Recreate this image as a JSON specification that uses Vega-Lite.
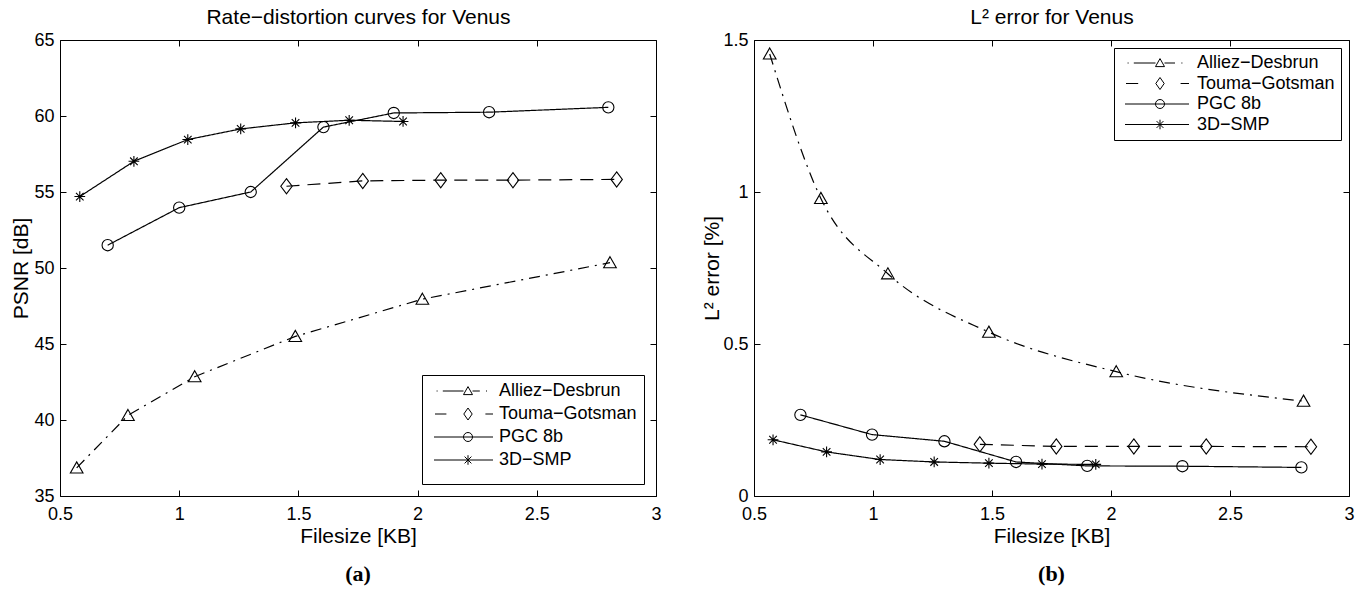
{
  "$schema": "https://vega.github.io/schema/vega-lite/v6.json",
  "padding": {"left": 10, "top": 6, "right": 5, "bottom": 5},
  "spacing": 39,
  "datasets": {
    "psnr": [
      {"method": "Alliez−Desbrun", "size": 0.57, "value": 36.85},
      {"method": "Alliez−Desbrun", "size": 0.785, "value": 40.3},
      {"method": "Alliez−Desbrun", "size": 1.065, "value": 42.85},
      {"method": "Alliez−Desbrun", "size": 1.487, "value": 45.5},
      {"method": "Alliez−Desbrun", "size": 2.02, "value": 47.95},
      {"method": "Alliez−Desbrun", "size": 2.807, "value": 50.35},
      {"method": "Touma−Gotsman", "size": 1.45, "value": 55.38},
      {"method": "Touma−Gotsman", "size": 1.77, "value": 55.73},
      {"method": "Touma−Gotsman", "size": 2.097, "value": 55.78},
      {"method": "Touma−Gotsman", "size": 2.4, "value": 55.78},
      {"method": "Touma−Gotsman", "size": 2.835, "value": 55.83},
      {"method": "PGC 8b", "size": 0.7, "value": 51.5},
      {"method": "PGC 8b", "size": 1.0, "value": 53.97},
      {"method": "PGC 8b", "size": 1.3, "value": 55.0},
      {"method": "PGC 8b", "size": 1.605, "value": 59.27},
      {"method": "PGC 8b", "size": 1.9, "value": 60.2},
      {"method": "PGC 8b", "size": 2.3, "value": 60.25},
      {"method": "PGC 8b", "size": 2.8, "value": 60.57},
      {"method": "3D−SMP", "size": 0.583, "value": 54.7},
      {"method": "3D−SMP", "size": 0.81, "value": 57.02},
      {"method": "3D−SMP", "size": 1.036, "value": 58.45},
      {"method": "3D−SMP", "size": 1.258, "value": 59.15},
      {"method": "3D−SMP", "size": 1.488, "value": 59.55},
      {"method": "3D−SMP", "size": 1.713, "value": 59.72},
      {"method": "3D−SMP", "size": 1.939, "value": 59.64}
    ],
    "l2": [
      {"method": "Alliez−Desbrun", "size": 0.566, "value": 1.454},
      {"method": "Alliez−Desbrun", "size": 0.781, "value": 0.979},
      {"method": "Alliez−Desbrun", "size": 1.0625, "value": 0.731},
      {"method": "Alliez−Desbrun", "size": 1.487, "value": 0.539},
      {"method": "Alliez−Desbrun", "size": 2.022, "value": 0.409},
      {"method": "Alliez−Desbrun", "size": 2.809, "value": 0.312},
      {"method": "Touma−Gotsman", "size": 1.449, "value": 0.17},
      {"method": "Touma−Gotsman", "size": 1.77, "value": 0.163},
      {"method": "Touma−Gotsman", "size": 2.096, "value": 0.163},
      {"method": "Touma−Gotsman", "size": 2.4, "value": 0.163},
      {"method": "Touma−Gotsman", "size": 2.84, "value": 0.162},
      {"method": "PGC 8b", "size": 0.695, "value": 0.267},
      {"method": "PGC 8b", "size": 0.996, "value": 0.202},
      {"method": "PGC 8b", "size": 1.3, "value": 0.18},
      {"method": "PGC 8b", "size": 1.601, "value": 0.112},
      {"method": "PGC 8b", "size": 1.9, "value": 0.099},
      {"method": "PGC 8b", "size": 2.3, "value": 0.098},
      {"method": "PGC 8b", "size": 2.8, "value": 0.094},
      {"method": "3D−SMP", "size": 0.58, "value": 0.185},
      {"method": "3D−SMP", "size": 0.805, "value": 0.145},
      {"method": "3D−SMP", "size": 1.03, "value": 0.12},
      {"method": "3D−SMP", "size": 1.257, "value": 0.112},
      {"method": "3D−SMP", "size": 1.487, "value": 0.108},
      {"method": "3D−SMP", "size": 1.71, "value": 0.105},
      {"method": "3D−SMP", "size": 1.936, "value": 0.104}
    ]
  },
  "hconcat": [
    {
      "width": 596,
      "height": 456,
      "data": {"name": "psnr"},
      "title": {"text": "(a)", "orient": "bottom", "font": "Liberation Serif", "fontSize": 22, "fontWeight": "bold", "color": "black", "offset": 18, "anchor": "middle"},
      "layer": [
        {
          "mark": {"type": "line", "strokeWidth": 1.2, "color": "black"},
          "encoding": {
            "x": {"field": "size", "type": "quantitative", "scale": {"domain": [0.5, 3], "nice": false, "zero": false},
              "axis": {"orient": "bottom", "values": [0.5, 1, 1.5, 2, 2.5, 3], "format": "~g", "title": "Filesize [KB]", "labelFlush": false, "labelOverlap": false, "labelPadding": 15, "titlePadding": 2}},
            "y": {"field": "value", "type": "quantitative", "scale": {"domain": [35, 65], "nice": false, "zero": false},
              "axis": {"orient": "left", "values": [35, 40, 45, 50, 55, 60, 65], "format": "~g", "title": "PSNR [dB]", "labelOverlap": false, "labelPadding": 12, "titlePadding": 2}},
            "strokeDash": {"field": "method", "type": "nominal", "scale": {"domain": ["Alliez−Desbrun", "Touma−Gotsman", "PGC 8b", "3D−SMP"], "range": [[11, 6, 2, 6], [13, 8], [1, 0], [1, 0]]}, "legend": null},
            "detail": {"field": "method", "type": "nominal"}
          }
        },
        {
          "mark": {"type": "point", "filled": false, "color": "black", "strokeWidth": 1.1, "size": 160, "opacity": 1},
          "encoding": {
            "x": {"field": "size", "type": "quantitative",
              "axis": {"orient": "top", "labels": false, "values": [0.5, 1, 1.5, 2, 2.5, 3], "title": "Rate−distortion curves for Venus", "titlePadding": 12}},
            "y": {"field": "value", "type": "quantitative",
              "axis": {"orient": "right", "labels": false, "values": [35, 40, 45, 50, 55, 60, 65], "title": null}},
            "shape": {"field": "method", "type": "nominal",
              "scale": {"domain": ["Alliez−Desbrun", "Touma−Gotsman", "PGC 8b", "3D−SMP"],
                "range": ["M0,-0.95L1,0.8L-1,0.8Z", "M0,-1.2L0.9,0L0,1.2L-0.9,0Z", "M-0.89,0A0.89,0.89,0,1,0,0.89,0A0.89,0.89,0,1,0,-0.89,0Z", "M0,-0.85V0.85M-0.85,0H0.85M-0.6,-0.6L0.6,0.6M-0.6,0.6L0.6,-0.6"]},
              "legend": null
            }
          }
        },
        {
          "mark": {"type": "point", "filled": false, "color": "black", "opacity": 0},
          "encoding": {
            "x": {"field": "size", "type": "quantitative", "axis": null},
            "y": {"field": "value", "type": "quantitative", "axis": null},
            "shape": {"field": "method", "type": "nominal",
              "scale": {"domain": ["Alliez−Desbrun", "Touma−Gotsman", "PGC 8b", "3D−SMP"],
                "range": ["M-0.35,0H-0.1M1.2,0H6.375M7.5,-1.1L8.625,0.9L6.375,0.9ZM8.625,0H10.45M12,0H12.25", "M-0.75,0H2.1M11.85,0H13.75M7.5,-1.5L8.55,0L7.5,1.5L6.45,0Z", "M-1,0H13.75M6.375,0A1.125,1.125,0,1,0,8.625,0A1.125,1.125,0,1,0,6.375,0Z", "M-1,0H13.75M7.5,-1.2V1.2M6.65,-0.85L8.35,0.85M6.65,0.85L8.35,-0.85"]},
              "legend": {"title": " ", "titleOrient": "bottom", "titleFontSize": 6, "titlePadding": 2, "orient": "bottom-right", "offset": 12, "padding": 7, "rowPadding": 5, "labelFontSize": 18, "labelFont": "Liberation Sans", "labelColor": "black", "labelOffset": 52, "labelLimit": 400, "symbolSize": 64, "symbolStrokeWidth": 1, "symbolStrokeColor": "black", "symbolFillColor": "transparent", "symbolOpacity": 1, "strokeColor": "black", "fillColor": "white", "cornerRadius": 0}
            }
          }
        }
      ],
      "resolve": {"axis": {"x": "independent", "y": "independent"}, "scale": {"shape": "independent"}, "legend": {"shape": "independent"}}
    },
    {
      "width": 595,
      "height": 456,
      "data": {"name": "l2"},
      "title": {"text": "(b)", "orient": "bottom", "font": "Liberation Serif", "fontSize": 22, "fontWeight": "bold", "color": "black", "offset": 18, "anchor": "middle"},
      "layer": [
        {
          "transform": [{"filter": "datum.method === 'Alliez−Desbrun'"}],
          "mark": {"type": "line", "strokeWidth": 1.2, "color": "black", "interpolate": "monotone"},
          "encoding": {
            "x": {"field": "size", "type": "quantitative", "scale": {"domain": [0.5, 3], "nice": false, "zero": false},
              "axis": {"orient": "bottom", "values": [0.5, 1, 1.5, 2, 2.5, 3], "format": "~g", "title": "Filesize [KB]", "labelFlush": false, "labelOverlap": false, "labelPadding": 15, "titlePadding": 2}},
            "y": {"field": "value", "type": "quantitative", "scale": {"domain": [0, 1.5], "nice": false, "zero": false},
              "axis": {"orient": "left", "values": [0, 0.5, 1, 1.5], "format": "~g", "title": "L² error [%]", "labelOverlap": false, "labelPadding": 12, "titlePadding": 0}},
            "strokeDash": {"field": "method", "type": "nominal", "scale": {"domain": ["Alliez−Desbrun", "Touma−Gotsman", "PGC 8b", "3D−SMP"], "range": [[11, 6, 2, 6], [13, 8], [1, 0], [1, 0]]}, "legend": null},
            "detail": {"field": "method", "type": "nominal"}
          }
        },
        {
          "transform": [{"filter": "datum.method !== 'Alliez−Desbrun'"}],
          "mark": {"type": "line", "strokeWidth": 1.2, "color": "black"},
          "encoding": {
            "x": {"field": "size", "type": "quantitative", "axis": null},
            "y": {"field": "value", "type": "quantitative", "axis": null},
            "strokeDash": {"field": "method", "type": "nominal", "legend": null},
            "detail": {"field": "method", "type": "nominal"}
          }
        },
        {
          "mark": {"type": "point", "filled": false, "color": "black", "strokeWidth": 1.1, "size": 160, "opacity": 1},
          "encoding": {
            "x": {"field": "size", "type": "quantitative",
              "axis": {"orient": "top", "labels": false, "values": [0.5, 1, 1.5, 2, 2.5, 3], "title": "L² error for Venus", "titlePadding": 12}},
            "y": {"field": "value", "type": "quantitative",
              "axis": {"orient": "right", "labels": false, "values": [0, 0.5, 1, 1.5], "title": null}},
            "shape": {"field": "method", "type": "nominal",
              "scale": {"domain": ["Alliez−Desbrun", "Touma−Gotsman", "PGC 8b", "3D−SMP"],
                "range": ["M0,-0.95L1,0.8L-1,0.8Z", "M0,-1.2L0.9,0L0,1.2L-0.9,0Z", "M-0.89,0A0.89,0.89,0,1,0,0.89,0A0.89,0.89,0,1,0,-0.89,0Z", "M0,-0.85V0.85M-0.85,0H0.85M-0.6,-0.6L0.6,0.6M-0.6,0.6L0.6,-0.6"]},
              "legend": null
            }
          }
        },
        {
          "mark": {"type": "point", "filled": false, "color": "black", "opacity": 0},
          "encoding": {
            "x": {"field": "size", "type": "quantitative", "axis": null},
            "y": {"field": "value", "type": "quantitative", "axis": null},
            "shape": {"field": "method", "type": "nominal",
              "scale": {"domain": ["Alliez−Desbrun", "Touma−Gotsman", "PGC 8b", "3D−SMP"],
                "range": ["M-0.35,0H-0.1M1.2,0H6.625M7.75,-1.1L8.875,0.9L6.625,0.9ZM8.875,0H11.5M13.1,0H13.35", "M-0.75,0H2.3M12.9,0H15M7.75,-1.5L8.8,0L7.75,1.5L6.7,0Z", "M-1,0H15M6.625,0A1.125,1.125,0,1,0,8.875,0A1.125,1.125,0,1,0,6.625,0Z", "M-1,0H15M7.75,-1.2V1.2M6.9,-0.85L8.6,0.85M6.9,0.85L8.6,-0.85"]},
              "legend": {"title": null, "orient": "top-right", "offset": 8, "padding": 6, "rowPadding": 2.5, "labelFontSize": 18, "labelFont": "Liberation Sans", "labelColor": "black", "labelOffset": 59, "labelLimit": 400, "symbolSize": 64, "symbolStrokeWidth": 1, "symbolStrokeColor": "black", "symbolFillColor": "transparent", "symbolOpacity": 1, "strokeColor": "black", "fillColor": "white", "cornerRadius": 0}
            }
          }
        }
      ],
      "resolve": {"axis": {"x": "independent", "y": "independent"}, "scale": {"shape": "independent"}, "legend": {"shape": "independent"}}
    }
  ],
  "config": {
    "font": "Liberation Sans",
    "view": {"stroke": null},
    "axis": {"domainColor": "black", "tickColor": "black", "labelColor": "black", "titleColor": "black", "labelFontSize": 18, "titleFontSize": 21, "titleFontWeight": "normal", "grid": false, "tickSize": -6, "labelFont": "Liberation Sans", "titleFont": "Liberation Sans", "domainWidth": 1, "tickWidth": 1}
  }
}
